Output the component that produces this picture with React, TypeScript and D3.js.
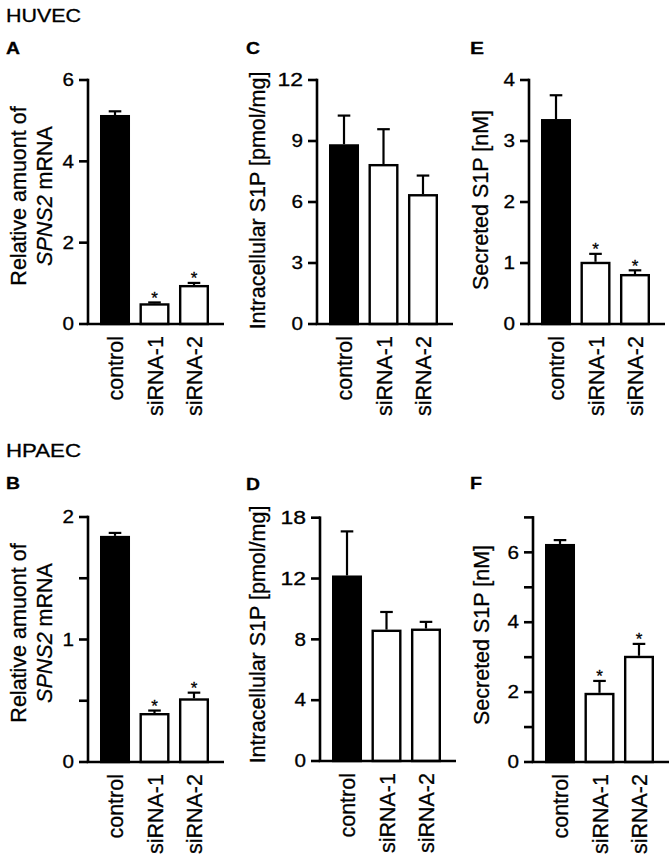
import React from "react";
import * as d3 from "d3";

// ---------- DATA ----------
const categories = ["control", "siRNA-1", "siRNA-2"];

// Panel A (HUVEC, SPNS2 mRNA)
const valuesA = [5.14, 0.51, 0.96];
const errorsA = [0.09, 0.02, 0.05];
const starsA = [false, true, true];
const ticksA = [0, 2, 4, 6];
const tickLabelsA = ["0", "2", "4", "6"];

// Panel C (HUVEC, intracellular S1P)
const valuesC = [8.84, 7.87, 6.39];
const errorsC = [1.41, 1.71, 0.91];
const starsC = [false, false, false];
const ticksC = [0, 3, 6, 9, 12];
const tickLabelsC = ["0", "3", "6", "9", "12"];

// Panel E (HUVEC, secreted S1P)
const valuesE = [3.36, 1.02, 0.82];
const errorsE = [0.39, 0.13, 0.06];
const starsE = [false, true, true];
const ticksE = [0, 1, 2, 3, 4];
const tickLabelsE = ["0", "1", "2", "3", "4"];

// Panel B (HPAEC, SPNS2 mRNA)
const valuesB = [1.846, 0.4, 0.52];
const errorsB = [0.024, 0.02, 0.046];
const starsB = [false, true, true];
const ticksB = [0, 0.5, 1, 1.5, 2];
const tickLabelsB = ["0", "", "1", "", "2"];

// Panel D (HPAEC, intracellular S1P)
const valuesD = [12.2, 8.64, 8.71];
const errorsD = [2.9, 1.16, 0.44];
const starsD = [false, false, false];
const ticksD = [0, 4, 8, 12, 16];
const tickLabelsD = ["0", "4", "8", "12", "18"];

// Panel F (HPAEC, secreted S1P)
const valuesF = [6.24, 1.98, 3.04];
const errorsF = [0.11, 0.34, 0.34];
const starsF = [false, true, true];
const ticksF = [0, 1, 2, 3, 4, 5, 6, 7];
const tickLabelsF = ["0", "", "2", "", "4", "", "6", ""];

// ---------- LAYOUT ----------
const FONT = "'Liberation Sans', Arial, Helvetica, sans-serif";
const TXT = { fontFamily: FONT, fill: "#000", stroke: "#000", strokeWidth: 0.3 };

type Panel = {
  letter: string;
  letterX: number;
  letterY: number;
  axisX: number;
  y0: number;
  yTop: number;
  max: number;
  values: number[];
  errors: number[];
  stars: boolean[];
  ticks: number[];
  tickLabels: string[];
  title: "mrna" | "intra" | "secr";
  titleX: number;
  titleY: number;
};

const panels: Panel[] = [
  { letter: "A", letterX: 6, letterY: 53.5, axisX: 88, y0: 324, yTop: 80, max: 6, values: valuesA, errors: errorsA, stars: starsA, ticks: ticksA, tickLabels: tickLabelsA, title: "mrna", titleX: 25.5, titleY: 196 },
  { letter: "C", letterX: 246, letterY: 54, axisX: 317, y0: 324, yTop: 80, max: 12, values: valuesC, errors: errorsC, stars: starsC, ticks: ticksC, tickLabels: tickLabelsC, title: "intra", titleX: 265, titleY: 200.5 },
  { letter: "E", letterX: 470, letterY: 53.5, axisX: 529, y0: 324, yTop: 80, max: 4, values: valuesE, errors: errorsE, stars: starsE, ticks: ticksE, tickLabels: tickLabelsE, title: "secr", titleX: 487.5, titleY: 200 },
  { letter: "B", letterX: 6, letterY: 489, axisX: 88, y0: 762, yTop: 517, max: 2, values: valuesB, errors: errorsB, stars: starsB, ticks: ticksB, tickLabels: tickLabelsB, title: "mrna", titleX: 25.5, titleY: 633 },
  { letter: "D", letterX: 246, letterY: 489.5, axisX: 320, y0: 761, yTop: 517.7, max: 16, values: valuesD, errors: errorsD, stars: starsD, ticks: ticksD, tickLabels: tickLabelsD, title: "intra", titleX: 264.5, titleY: 634.5 },
  { letter: "F", letterX: 470, letterY: 489, axisX: 533, y0: 762, yTop: 517.4, max: 7, values: valuesF, errors: errorsF, stars: starsF, ticks: ticksF, tickLabels: tickLabelsF, title: "secr", titleX: 488.5, titleY: 635 },
];

const AXIS_W = 2.6;
const BAR_STROKE = 2.4;
const TICK_LEN = 9;

function PanelChart({ p }: { p: Panel }) {
  const y = d3.scaleLinear().domain([0, p.max]).range([p.y0, p.yTop]);
  const x = d3
    .scaleBand<string>()
    .domain(categories)
    .range([p.axisX + 12, p.axisX + 12 + 109])
    .paddingInner(0.24)
    .paddingOuter(0);
  const bw = x.bandwidth();
  const axisEnd = p.axisX + 136;

  return (
    <g>
      <text x={p.letterX} y={p.letterY} {...TXT} fontWeight="bold" fontSize={16.5}
        textLength={p.letter === "F" ? 12 : 14} lengthAdjust="spacingAndGlyphs">
        {p.letter}
      </text>

      {/* bars */}
      {categories.map((c, i) => {
        const x0 = x(c)!;
        const top = y(p.values[i]);
        return (
          <rect key={c} x={x0 + BAR_STROKE / 2} y={top + BAR_STROKE / 2}
            width={bw - BAR_STROKE} height={p.y0 - top - BAR_STROKE / 2}
            fill={i === 0 ? "#000" : "#fff"} stroke="#000" strokeWidth={BAR_STROKE} />
        );
      })}

      {/* error bars */}
      {categories.map((c, i) => {
        const cx = x(c)! + bw / 2;
        const top = y(p.values[i]);
        const et = y(p.values[i] + p.errors[i]);
        return (
          <g key={c} stroke="#000" strokeWidth={2.2}>
            <line x1={cx} x2={cx} y1={top} y2={et} />
            <line x1={cx - 6.3} x2={cx + 6.3} y1={et} y2={et} />
          </g>
        );
      })}

      {/* significance stars */}
      {categories.map((c, i) =>
        p.stars[i] ? (
          <text key={c} x={x(c)! + bw / 2} y={y(p.values[i] + p.errors[i]) + 1.5}
            textAnchor="middle" {...TXT} fontSize={17}>
            *
          </text>
        ) : null
      )}

      {/* y axis */}
      <line x1={p.axisX} x2={p.axisX} y1={p.yTop - AXIS_W / 2} y2={p.y0} stroke="#000" strokeWidth={AXIS_W} />
      {p.ticks.map((t, i) => (
        <g key={t}>
          <line x1={p.axisX - TICK_LEN} x2={p.axisX} y1={y(t)} y2={y(t)} stroke="#000" strokeWidth={AXIS_W} />
          {p.tickLabels[i] ? (
            <text x={p.axisX - 14} y={y(t) + 6.2} textAnchor="end" {...TXT} fontSize={17.5}
              textLength={p.tickLabels[i].length * 11.5 + (p.tickLabels[i].length - 1) * 2.5}
              lengthAdjust="spacingAndGlyphs">
              {p.tickLabels[i]}
            </text>
          ) : null}
        </g>
      ))}
      {/* x axis */}
      <line x1={p.axisX - AXIS_W / 2} x2={axisEnd} y1={p.y0} y2={p.y0} stroke="#000" strokeWidth={AXIS_W} />

      {/* category labels */}
      {categories.map((c) => (
        <text key={c} textAnchor="end" {...TXT} fontSize={21.5}
          transform={`translate(${x(c)! + bw / 2 + 8},${p.y0 + 12}) rotate(-90)`}>
          {c}
        </text>
      ))}

      {/* axis title */}
      {p.title === "mrna" ? (
        <g>
          <text textAnchor="middle" {...TXT} fontSize={21.5}
            transform={`translate(${p.titleX},${p.titleY}) rotate(-90)`}>
            Relative amuont of
          </text>
          <text textAnchor="middle" {...TXT} fontSize={21.5}
            transform={`translate(${p.titleX + 26},${p.titleY}) rotate(-90)`}>
            <tspan fontStyle="italic">SPNS2</tspan> mRNA
          </text>
        </g>
      ) : (
        <text textAnchor="middle" {...TXT} fontSize={21.5}
          transform={`translate(${p.titleX},${p.titleY}) rotate(-90)`}>
          {p.title === "intra" ? "Intracellular S1P [pmol/mg]" : "Secreted S1P [nM]"}
        </text>
      )}
    </g>
  );
}

export default function App() {
  return (
    <svg width={671} height={860} style={{ position: "absolute", left: 0, top: 0, background: "#fff" }}>
      <rect width={671} height={860} fill="#fff" />
      <text x={6} y={21.7} {...TXT} fontSize={18.5} textLength={75} lengthAdjust="spacingAndGlyphs">HUVEC</text>
      <text x={6} y={457} {...TXT} fontSize={18.5} textLength={75} lengthAdjust="spacingAndGlyphs">HPAEC</text>
      {panels.map((p) => (
        <PanelChart key={p.letter} p={p} />
      ))}
    </svg>
  );
}
